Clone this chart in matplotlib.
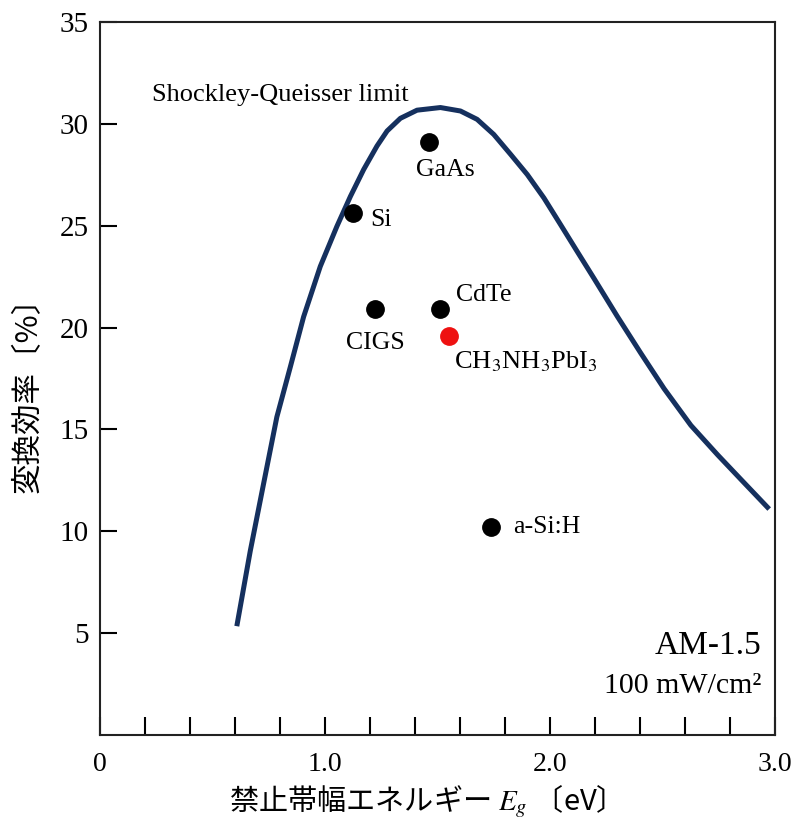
import numpy as np
import matplotlib
matplotlib.use("Agg")
import matplotlib.pyplot as plt

plt.rcParams['font.family'] = ['Liberation Serif', 'Noto Sans CJK JP']
plt.rcParams['mathtext.fontset'] = 'stix'

# Shockley-Queisser limit curve (band gap eV, efficiency %)
sq_eg = [0.608, 0.668, 0.727, 0.786, 0.846, 0.905, 0.979, 1.053, 1.113, 1.172,
         1.231, 1.276, 1.335, 1.409, 1.513, 1.602, 1.676, 1.750, 1.825, 1.899,
         1.973, 2.047, 2.121, 2.195, 2.299, 2.403, 2.507, 2.626, 2.745, 2.848, 2.974]
sq_eff = [5.34, 9.04, 12.33, 15.61, 18.07, 20.53, 23.00, 24.97, 26.44, 27.76,
          28.91, 29.65, 30.27, 30.67, 30.80, 30.63, 30.22, 29.48, 28.50, 27.51,
          26.36, 25.05, 23.73, 22.42, 20.55, 18.75, 17.00, 15.20, 13.75, 12.55, 11.09]

# measured cells
cells = ['Si', 'GaAs', 'CIGS', 'CdTe', 'a-Si:H']
cell_eg = [1.126, 1.46, 1.224, 1.509, 1.736]
cell_eff = [25.6, 29.1, 20.9, 20.9, 10.2]

perov_name = 'CH$_3$NH$_3$PbI$_3$'
perov_eg = 1.549
perov_eff = 19.6

fig = plt.figure(figsize=(7.98, 8.26), dpi=100)
ax = fig.add_axes([0.1253, 0.1102, 0.8459, 0.8632])

ax.plot(sq_eg, sq_eff, color='#15305e', lw=3.6, solid_capstyle='butt',
        solid_joinstyle='round')
ax.plot(cell_eg, cell_eff, 'o', color='black', ms=12.5, zorder=3)
ax.plot([perov_eg], [perov_eff], 'o', color='#ee1111', ms=12.5, zorder=3)

# labels next to the dots: (dx, dy) offsets in points, alignment
label_pos = {
    'Si': ((12, -5), 'left', 'center'),
    'GaAs': ((12, -20), 'center', 'center'),
    'CIGS': ((0, -24), 'center', 'center'),
    'CdTe': ((12, 10), 'left', 'center'),
    'a-Si:H': ((16, 0), 'left', 'center'),
}
for name, x, y in zip(cells, cell_eg, cell_eff):
    (dx, dy), ha, va = label_pos[name]
    ax.annotate(name, (x, y), xytext=(dx, dy), textcoords='offset points',
                ha=ha, va=va, fontsize=18.5)
ax.annotate(perov_name, (perov_eg, perov_eff), xytext=(4, -19),
            textcoords='offset points', ha='left', va='center', fontsize=19)

ax.text(0.23, 31.4, 'Shockley-Queisser limit', fontsize=19, ha='left', va='center')
ax.text(2.94, 4.4, 'AM-1.5', fontsize=24, ha='right', va='center')
ax.text(2.94, 2.4, '100 mW/cm²', fontsize=21.5, ha='right', va='center')

ax.set_xlim(0, 3.0)
ax.set_ylim(0, 35)

xt = np.round(np.arange(0, 3.01, 0.2), 1)
ax.set_xticks(xt)
ax.set_xticklabels(['0' if v == 0 else ('%.1f' % v if v in (1.0, 2.0, 3.0) else '') for v in xt],
                   fontsize=20)
ax.set_yticks([5, 10, 15, 20, 25, 30, 35])
ax.set_yticklabels(['5', '10', '15', '20', '25', '30', '35'], fontsize=21)

ax.tick_params(axis='x', direction='in', length=13, width=1.5, pad=12)
ax.tick_params(axis='y', direction='in', length=12, width=1.5, pad=8)
for s in ax.spines.values():
    s.set_linewidth(1.5)
    s.set_color('#222222')

ax.set_xlabel('禁止帯幅エネルギー $E_g$ 〔eV〕', fontsize=21, family='Noto Sans CJK JP',
              va='center')
ax.xaxis.set_label_coords(0.471, -0.093)
ax.set_ylabel('変換効率〔%〕', fontsize=22, family=['Noto Sans CJK JP'], va='center')
ax.yaxis.set_label_coords(-0.107, 0.487)

fig.savefig('out.png', dpi=100)
